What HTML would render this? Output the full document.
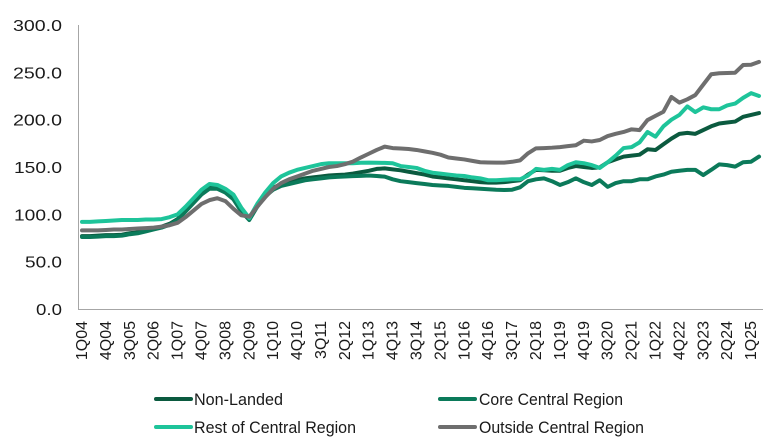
<!DOCTYPE html>
<html>
<head>
<meta charset="utf-8">
<style>
  html, body { margin:0; padding:0; background:#ffffff; }
  body { width:773px; height:442px; overflow:hidden; }
  svg { display:block; }
  text { font-family:"Liberation Sans", Arial, sans-serif; fill:#1a1a1a; }
</style>
</head>
<body>
<svg width="773" height="442" viewBox="0 0 773 442" xmlns="http://www.w3.org/2000/svg">
  <rect width="773" height="442" fill="#ffffff"/>

  <!-- Y axis labels -->
  <g font-size="16" text-anchor="end">
    <text x="62" y="31" textLength="49" lengthAdjust="spacingAndGlyphs">300.0</text>
    <text x="62" y="78.3" textLength="49" lengthAdjust="spacingAndGlyphs">250.0</text>
    <text x="62" y="125.6" textLength="49" lengthAdjust="spacingAndGlyphs">200.0</text>
    <text x="62" y="173" textLength="48" lengthAdjust="spacingAndGlyphs">150.0</text>
    <text x="62" y="220.3" textLength="48" lengthAdjust="spacingAndGlyphs">100.0</text>
    <text x="62" y="267.6" textLength="37" lengthAdjust="spacingAndGlyphs">50.0</text>
    <text x="62" y="315" textLength="26" lengthAdjust="spacingAndGlyphs">0.0</text>
  </g>

  <!-- Axes -->
  <line x1="78.5" y1="25" x2="78.5" y2="309.5" stroke="#a6a6a6" stroke-width="1"/>
  <line x1="78" y1="309.5" x2="763" y2="309.5" stroke="#a6a6a6" stroke-width="1"/>

  <!-- X labels -->
  <g font-size="16" text-anchor="end">
    <text transform="translate(87,321) rotate(-90)">1Q04</text>
    <text transform="translate(110.9,321) rotate(-90)">4Q04</text>
    <text transform="translate(134.8,321) rotate(-90)">3Q05</text>
    <text transform="translate(158.7,321) rotate(-90)">2Q06</text>
    <text transform="translate(182.6,321) rotate(-90)">1Q07</text>
    <text transform="translate(206.5,321) rotate(-90)">4Q07</text>
    <text transform="translate(230.4,321) rotate(-90)">3Q08</text>
    <text transform="translate(254.3,321) rotate(-90)">2Q09</text>
    <text transform="translate(278.2,321) rotate(-90)">1Q10</text>
    <text transform="translate(302.1,321) rotate(-90)">4Q10</text>
    <text transform="translate(326,321) rotate(-90)">3Q11</text>
    <text transform="translate(349.9,321) rotate(-90)">2Q12</text>
    <text transform="translate(373.7,321) rotate(-90)">1Q13</text>
    <text transform="translate(397.6,321) rotate(-90)">4Q13</text>
    <text transform="translate(421.5,321) rotate(-90)">3Q14</text>
    <text transform="translate(445.4,321) rotate(-90)">2Q15</text>
    <text transform="translate(469.3,321) rotate(-90)">1Q16</text>
    <text transform="translate(493.2,321) rotate(-90)">4Q16</text>
    <text transform="translate(517.1,321) rotate(-90)">3Q17</text>
    <text transform="translate(541,321) rotate(-90)">2Q18</text>
    <text transform="translate(564.9,321) rotate(-90)">1Q19</text>
    <text transform="translate(588.8,321) rotate(-90)">4Q19</text>
    <text transform="translate(612.7,321) rotate(-90)">3Q20</text>
    <text transform="translate(636.6,321) rotate(-90)">2Q21</text>
    <text transform="translate(660.5,321) rotate(-90)">1Q22</text>
    <text transform="translate(684.4,321) rotate(-90)">4Q22</text>
    <text transform="translate(708.3,321) rotate(-90)">3Q23</text>
    <text transform="translate(732.2,321) rotate(-90)">2Q24</text>
    <text transform="translate(756.1,321) rotate(-90)">1Q25</text>
  </g>

  <!-- Series: data space x = quarter index, y = index value -->
  <g transform="translate(82,309) scale(7.965,-0.94667)" fill="none" stroke-width="4" stroke-linejoin="round" stroke-linecap="round">
    <!-- Non-Landed -->
    <polyline vector-effect="non-scaling-stroke" stroke="#0b5a3f" points="0,77 1,77 2,77.5 3,78 4,78 5,78.5 6,80 7,81 8,83 9,85 10,87 11,90 12,95 13,104 14,113 15,122 16,128 17,128 18,124 19,117 20,104 21,95 22,109 23,120 24,128 25,132 26,134 27,136 28,138 29,139 30,140 31,141 32,141.5 33,142 34,143 35,144.5 36,146 37,148 38,148.5 39,147.5 40,146.5 41,145 42,143.5 43,142 44,140 45,139 46,138 47,137 48,136 49,135 50,134 51,133.5 52,133.5 53,134 54,135 55,136 56,142 57,147 58,146.5 59,146 60,146 61,149 62,151 63,150 64,149 65,149.6 66,155 67,158 68,161 69,162 70,163 71,168.7 72,168 73,174 74,180 75,185 76,186 77,185 78,189 79,193 80,196 81,197 82,198 83,203 84,205 85,207"/>
    <!-- Core Central Region -->
    <polyline vector-effect="non-scaling-stroke" stroke="#0b7a5a" points="0,76 1,76 2,76.5 3,77 4,77 5,77.5 6,79 7,80 8,82 9,84 10,86 11,89 12,94 13,103 14,112 15,121 16,127 17,127 18,123 19,116 20,103 21,94 22,108 23,119 24,126 25,130 26,132 27,134 28,136 29,137 30,138 31,139 32,139.5 33,140 34,140.3 35,140.6 36,141 37,140.5 38,139.8 39,137 40,135 41,134 42,133 43,132 44,131 45,130.5 46,130 47,129 48,128 49,127.5 50,127 51,126.5 52,126 53,125.7 54,126 55,128.5 56,135 57,137 58,138 59,135 60,131 61,134 62,138 63,134 64,131 65,136 66,129 67,133 68,135 69,135 70,137 71,137 72,140 73,142 74,145 75,146 76,147 77,147 78,141.5 79,147 80,152.8 81,152 82,150.4 83,155 84,155.6 85,161"/>
    <!-- Rest of Central Region -->
    <polyline vector-effect="non-scaling-stroke" stroke="#1ec49a" points="0,92 1,92 2,92.5 3,93 4,93.5 5,94 6,94 7,94 8,94.5 9,94.5 10,95 11,97 12,100 13,108 14,117 15,126 16,132 17,131 18,127 19,121 20,107 21,96 22,111 23,123 24,133 25,140 26,144 27,147 28,149 29,151 30,153 31,154 32,154 33,154 34,154 35,154.5 36,154.6 37,154.5 38,154.3 39,154 40,151 41,150 42,149 43,146 44,144 45,143 46,142 47,141 48,140.5 49,139 50,138 51,136 52,136 53,136.5 54,137 55,137 56,141 57,148 58,147 59,148 60,147 61,152 62,155 63,154 64,152 65,149 66,155 67,162 68,170 69,171 70,176 71,187 72,182 73,193 74,200 75,205 76,214 77,208 78,213 79,211 80,211 81,215 82,217 83,223 84,228 85,225"/>
    <!-- Outside Central Region -->
    <polyline vector-effect="non-scaling-stroke" stroke="#6e6e6e" points="0,83 1,83 2,83 3,83.5 4,84 5,84 6,84.5 7,85 8,85.5 9,86 10,87 11,88.5 12,91 13,97 14,104 15,111 16,115 17,117 18,114 19,106 20,99 21,97.5 22,108 23,118 24,127 25,133 26,137 27,140 28,143 29,146 30,148 31,150 32,151 33,153 34,155.6 35,160 36,164 37,168 38,171.5 39,170 40,169.5 41,169 42,168 43,166.5 44,165 45,163 46,160 47,159 48,158 49,156.5 50,155 51,154.8 52,154.6 53,154.6 54,155.5 55,157 56,164.5 57,169.7 58,170 59,170.4 60,171 61,172 62,173 63,177.8 64,177 65,178.5 66,182.7 67,185 68,187 69,189.8 70,189 71,199.6 72,204 73,208.4 74,224 75,218 76,221.5 77,226 78,237 79,248 80,249 81,249.3 82,249.6 83,257.7 84,258 85,261"/>
  </g>

  <!-- Legend -->
  <g stroke-width="4" stroke-linecap="round">
    <line x1="156" y1="399" x2="191" y2="399" stroke="#0b5a3f"/>
    <line x1="440" y1="399" x2="475" y2="399" stroke="#0b7a5a"/>
    <line x1="156" y1="427" x2="191" y2="427" stroke="#1ec49a"/>
    <line x1="440" y1="427" x2="475" y2="427" stroke="#6e6e6e"/>
  </g>
  <g font-size="17">
    <text x="194" y="405" textLength="89" lengthAdjust="spacingAndGlyphs">Non-Landed</text>
    <text x="479" y="405" textLength="144" lengthAdjust="spacingAndGlyphs">Core Central Region</text>
    <text x="194" y="433" textLength="162" lengthAdjust="spacingAndGlyphs">Rest of Central Region</text>
    <text x="479" y="433" textLength="165" lengthAdjust="spacingAndGlyphs">Outside Central Region</text>
  </g>
</svg>
</body>
</html>
